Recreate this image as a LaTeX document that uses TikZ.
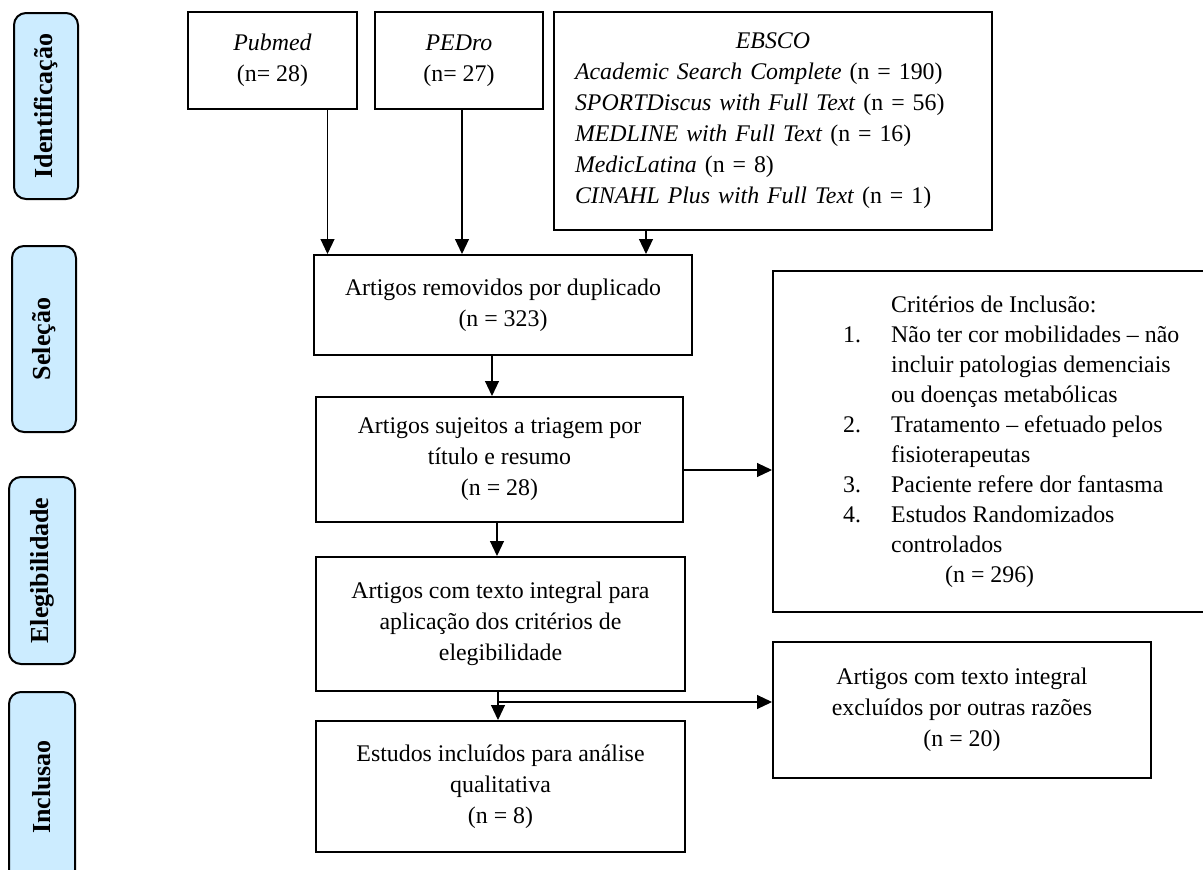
\documentclass[tikz,border=0pt]{standalone}
\usepackage{fontspec}
\setmainfont{Liberation Serif}
\usepackage{tikz}
\usetikzlibrary{arrows.meta,calc}
\definecolor{azulclaro}{HTML}{CCECFF}

\begin{document}
\begin{tikzpicture}[x=1pt, y=-1pt, >={Triangle[length=15pt,width=14pt]},
  caixa/.style={draw, line width=2pt, inner sep=0pt, align=center, font=\fontsize{23.85}{31}\selectfont},
  etapa/.style={draw, line width=2pt, rounded corners=12pt, fill=azulclaro, rotate=90, inner sep=0pt, font=\fontsize{26}{30}\selectfont\bfseries},
  seta/.style={->, line width=1.1pt}]
  \useasboundingbox (0,0) rectangle (1203,870);
  \node[etapa, minimum width=186pt, minimum height=64pt] (ident) at (46,106) {Identificação};
  \node[etapa, minimum width=186pt, minimum height=64pt] (selec) at (44,339) {Seleção};
  \node[etapa, minimum width=187pt, minimum height=66pt] (eleg) at (42,570.5) {Elegibilidade};
  \node[etapa, minimum width=190pt, minimum height=66pt] (incl) at (42,787) {Inclusao};
  \node[caixa, minimum width=169pt, minimum height=97pt] (pub) at (272.5,60.5) {\textit{Pubmed}\\(n= 28)};
  \node[caixa, minimum width=168pt, minimum height=97pt] (ped) at (459,60.5) {\textit{PEDro}\\(n= 27)};
  \node[caixa, text width=396pt, align=left, minimum width=438pt, minimum height=218pt] (ebsco) at (773,121)
    {\makebox[396pt]{\textit{EBSCO}}\\
     \textit{Academic Search Complete} (n = 190)\\
     \textit{SPORTDiscus with Full Text} (n = 56)\\
     \textit{MEDLINE with Full Text} (n = 16)\\
     \textit{MedicLatina} (n = 8)\\
     \textit{CINAHL Plus with Full Text} (n = 1)};
  \node[caixa, minimum width=378pt, minimum height=100pt] (rem) at (503,305) {Artigos removidos por duplicado\\(n = 323)};
  \node[caixa, minimum width=367pt, minimum height=125pt] (tri) at (499.5,459.5) {Artigos sujeitos a triagem por\\título e resumo\\(n = 28)};
  \node[caixa, minimum width=369pt, minimum height=134pt] (elig) at (500.5,624) {Artigos com texto integral para\\aplicação dos critérios de\\elegibilidade};
  \node[caixa, minimum width=369pt, minimum height=131pt] (est) at (500.5,786.5) {Estudos incluídos para análise\\qualitativa\\(n = 8)};
  \node[caixa, minimum width=437pt, minimum height=341pt] (crit) at (991.5,441.5) {};
  \node[anchor=west, inner sep=0pt, font=\fontsize{23.85}{30}\selectfont] (crittxt) at (843,441.5)
    {\begin{tabular}{@{}p{48pt}@{}l@{}}
       & Critérios de Inclusão:\\
     1. & Não ter cor mobilidades – não\\
       & incluir patologias demenciais\\
       & ou doenças metabólicas\\
     2. & Tratamento – efetuado pelos\\
       & fisioterapeutas\\
     3. & Paciente refere dor fantasma\\
     4. & Estudos Randomizados\\
       & controlados\\
       & \hspace*{54pt}(n = 296)
     \end{tabular}};
  \node[caixa, minimum width=378pt, minimum height=136pt] (excl) at (962,710) {Artigos com texto integral\\excluídos por outras razões\\(n = 20)};
  \draw[seta] ($(pub.south)+(55,0)$) coordinate (pa) -- (pa |- rem.north);
  \draw[seta] ($(ped.south)+(3,0)$) coordinate (pb) -- (pb |- rem.north);
  \draw[seta] ($(ebsco.south)+(-127,0)$) coordinate (pc) -- (pc |- rem.north);
  \draw[seta] ($(rem.south)+(-11,0)$) coordinate (ra) -- (ra |- tri.north);
  \draw[seta] ($(tri.south)+(-2.5,0)$) coordinate (ta) -- (ta |- elig.north);
  \draw[seta] ($(tri.east)+(0,10.5)$) coordinate (tb) -- (tb -| crit.west);
  \draw[seta] ($(elig.south)+(-2.5,0)$) coordinate (ea) -- (ea |- est.north);
  \draw[seta] ($(elig.south)+(-2.5,10)$) coordinate (eb) -- (eb -| excl.west);
\end{tikzpicture}
\end{document}
